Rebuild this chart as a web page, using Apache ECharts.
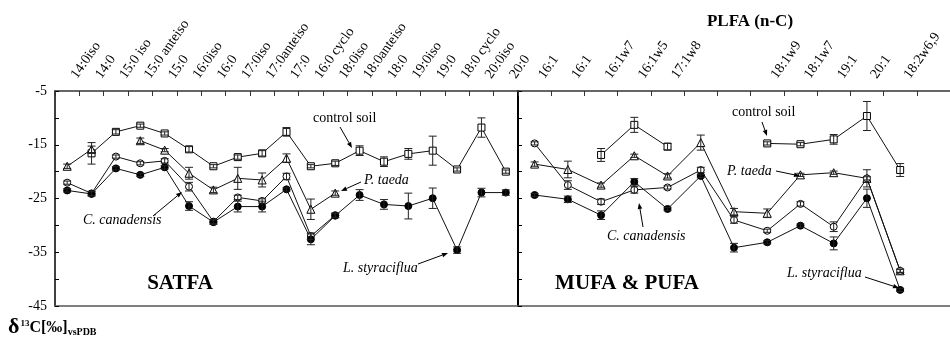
<!DOCTYPE html>
<html>
<head>
<meta charset="utf-8">
<script src="https://cdn.jsdelivr.net/npm/echarts@6/dist/echarts.min.js"></script>
<style>
html,body{margin:0;padding:0;background:#fff;}
#chart{width:950px;height:342px;}
</style>
</head>
<body>
<div id="chart"></div>
<script>
// ---------- DATA ----------
const satCats = ['14:0iso','14:0','15:0 iso','15:0 anteiso','15:0','16:0iso','16:0','17:0iso','17:0anteiso','17:0','16:0 cyclo','18:0iso','18:0anteiso','18:0','19:0iso','19:0','18:0 cyclo','20:0iso','20:0'];
const unsatCats = ['16:1','16:1','16:1w7','16:1w5','17:1w8','','','18:1w9','18:1w7','19:1','20:1','18:2w6,9',''];

const yTicks = [-45, -35, -25, -15, -5];

// SATFA panel
const satControl     = [null, -16.6, -12.6, -11.45, -12.9, -15.85, -19.0, -17.3, -16.6, -12.6, -19.0, -18.45, -16.1, -18.15, -16.7, -16.1, -19.6, -11.8, -20.0];
const satControlErr  = [0, 2.0, 0.4, 0.3, 0.3, 0.5, 0.3, 0.4, 0.5, 0.8, 0.3, 0.4, 0.9, 0.9, 1.0, 2.7, 0.3, 1.8, 0.3];
const satTaeda       = [-19.0, -15.85, null, -14.25, -16.0, -20.3, -23.4, -21.25, -21.55, -17.5, -27.0, -24.0, null, null, null, null, null, null, null];
const satTaedaErr    = [0.4, 0.6, 0, 0.5, 0.3, 1.1, 0.5, 2.05, 1.3, 0.8, 1.9, 0.4, 0, 0, 0, 0, 0, 0, 0];
const satCanad       = [-22.05, -24.05, -17.2, -18.45, -18.0, -22.8, -29.3, -24.8, -25.45, -20.9, -32.0, -28.1, null, null, null, null, null, null, null];
const satCanadErr    = [0.3, 0.4, 0.3, 0.3, 0.4, 0.8, 0.4, 0.4, 0.4, 0.6, 0.6, 0.4, 0, 0, 0, 0, 0, 0, 0];
const satStyr        = [-23.5, -24.15, -19.4, -20.6, -19.2, -26.4, -29.4, -26.5, -26.5, -23.3, -32.6, -28.2, -24.35, -26.1, -26.4, -24.95, -34.6, -23.9, -23.9];
const satStyrErr     = [0.3, 0.4, 0.3, 0.3, 0.3, 0.8, 0.4, 1.0, 1.0, 0.3, 1.0, 0.4, 1.0, 0.9, 2.4, 1.9, 0.6, 0.8, 0.5];

// MUFA & PUFA panel
const unsControl     = [null, null, -16.9, -11.3, -15.35, null, null, -14.75, -14.9, -14.0, -9.65, -19.7];
const unsControlErr  = [0, 0, 1.2, 1.4, 0.6, 0, 0, 0.3, 0.3, 0.9, 2.7, 1.2];
const unsTaeda       = [-18.6, -19.6, -22.5, -17.05, -20.8, -14.6, -27.45, -27.75, -20.6, -20.2, -21.25, -38.45];
const unsTaedaErr    = [0.4, 1.55, 0.4, 0.3, 0.4, 1.4, 0.6, 0.8, 0.3, 0.3, 1.6, 0.3];
const unsCanad       = [-14.75, -22.5, -25.6, -23.4, -22.95, -19.7, -29.0, -31.0, -26.0, -30.25, -21.25, -38.45];
const unsCanadErr    = [0.3, 0.8, 0.5, 0.6, 0.3, 0.5, 0.6, 0.3, 0.4, 0.9, 0.3, 0.3];
const unsStyr        = [-24.35, -25.15, -28.1, -21.9, -26.95, -20.8, -34.15, -33.15, -30.05, -33.35, -24.95, -42.0];
const unsStyrErr     = [0.3, 0.6, 0.8, 0.6, 0.3, 0.3, 0.8, 0.3, 0.3, 1.2, 1.7, 0.3];

// ---------- CHART ----------
const SERIF = '"Liberation Serif", "Times New Roman", serif';
const chart = echarts.init(document.getElementById('chart'), null, {renderer: 'canvas'});

const styles = {
  control: {symbol: 'rect', size: 7, fill: '#fff'},
  taeda:   {symbol: 'triangle', size: 8, fill: '#fff'},
  canad:   {symbol: 'circle', size: 7, fill: '#fff'},
  styr:    {symbol: 'circle', size: 7, fill: '#000'}
};

function lineSeries(name, data, st, gi) {
  return {
    type: 'line', name: name, xAxisIndex: gi, yAxisIndex: gi,
    data: data, connectNulls: false,
    symbol: st.symbol, symbolSize: st.size, showAllSymbol: true,
    itemStyle: {color: st.fill, borderColor: '#000', borderWidth: 1},
    lineStyle: {color: '#111', width: 1},
    emphasis: {disabled: true}, z: 3
  };
}
function errSeries(data, err, gi) {
  const d = [];
  data.forEach((v, i) => { if (v !== null && err[i] > 0) d.push([i, v, err[i]]); });
  return {
    type: 'custom', xAxisIndex: gi, yAxisIndex: gi, data: d, z: 4,
    encode: {x: 0, y: 1},
    renderItem: function (params, api) {
      const i = api.value(0), v = api.value(1), e = api.value(2);
      const hi = api.coord([i, v + e]);
      const lo = api.coord([i, v - e]);
      const hw = 4;
      const st = {stroke: '#222', lineWidth: 1};
      return {type: 'group', children: [
        {type: 'line', shape: {x1: hi[0], y1: hi[1], x2: lo[0], y2: lo[1]}, style: st},
        {type: 'line', shape: {x1: hi[0]-hw, y1: hi[1], x2: hi[0]+hw, y2: hi[1]}, style: st},
        {type: 'line', shape: {x1: lo[0]-hw, y1: lo[1], x2: lo[0]+hw, y2: lo[1]}, style: st}
      ]};
    }
  };
}

function arrow(x1, y1, x2, y2) {
  const dx = x2 - x1, dy = y2 - y1, len = Math.hypot(dx, dy);
  const ux = dx / len, uy = dy / len, hl = 6, hw = 2.3;
  const bx = x2 - ux * hl, by = y2 - uy * hl;
  return [
    {type: 'line', shape: {x1: x1, y1: y1, x2: bx, y2: by}, style: {stroke: '#000', lineWidth: 1}, z: 10},
    {type: 'polygon', shape: {points: [[x2, y2], [bx - uy * hw, by + ux * hw], [bx + uy * hw, by - ux * hw]]}, style: {fill: '#000'}, z: 10}
  ];
}
function label(text, x, y, opts) {
  opts = opts || {};
  return {type: 'text', x: x, y: y, z: 10, style: {
    text: text, fontFamily: SERIF, fontSize: opts.size || 14,
    fontStyle: opts.italic ? 'italic' : 'normal', fontWeight: opts.bold ? 'bold' : 'normal',
    fill: '#000', align: opts.align || 'left', verticalAlign: 'middle'
  }};
}

const xTop = (gi, cats) => ({
  gridIndex: gi, type: 'category', position: 'top', data: cats, boundaryGap: true,
  axisLine: {show: true, lineStyle: {color: '#333', width: 1.5}},
  axisTick: {show: true, inside: true, length: 5, interval: 0, lineStyle: {color: '#333'}},
  axisLabel: {interval: 0, rotate: -55, margin: 4, padding: [0, 0, 0, 12], fontFamily: SERIF, fontSize: 14, color: '#000'},
  splitLine: {show: false}
});
const xBottom = (gi, cats) => ({
  gridIndex: gi, type: 'category', position: 'bottom', data: cats,
  axisLine: {show: true, lineStyle: {color: '#555', width: 1.5}},
  axisTick: {show: false}, axisLabel: {show: false}, splitLine: {show: false}
});
const yAx = (gi, showLabels, lw) => ({
  gridIndex: gi, type: 'value', min: -45, max: -5, interval: 5,
  axisLine: {show: true, lineStyle: {color: '#000', width: lw}},
  axisTick: {show: true, inside: true, length: 4, lineStyle: {color: '#000'}},
  axisLabel: {show: showLabels, margin: 8, fontFamily: SERIF, fontSize: 14, color: '#000',
    formatter: v => (yTicks.indexOf(v) >= 0 ? String(v) : '')},
  splitLine: {show: false}
});

const series = [
  lineSeries('control soil', satControl, styles.control, 0),
  lineSeries('P. taeda', satTaeda, styles.taeda, 0),
  lineSeries('C. canadensis', satCanad, styles.canad, 0),
  lineSeries('L. styraciflua', satStyr, styles.styr, 0),
  errSeries(satControl, satControlErr, 0),
  errSeries(satTaeda, satTaedaErr, 0),
  errSeries(satCanad, satCanadErr, 0),
  errSeries(satStyr, satStyrErr, 0),
  lineSeries('control soil', unsControl, styles.control, 1),
  lineSeries('P. taeda', unsTaeda, styles.taeda, 1),
  lineSeries('C. canadensis', unsCanad, styles.canad, 1),
  lineSeries('L. styraciflua', unsStyr, styles.styr, 1),
  errSeries(unsControl, unsControlErr, 1),
  errSeries(unsTaeda, unsTaedaErr, 1),
  errSeries(unsCanad, unsCanadErr, 1),
  errSeries(unsStyr, unsStyrErr, 1)
];

const graphics = [].concat(
  label('PLFA (n-C)', 750, 22, {bold: true, size: 17, align: 'center'}),
  label('SATFA', 180, 284, {bold: true, size: 21, align: 'center'}),
  label('MUFA & PUFA', 627, 284, {bold: true, size: 21, align: 'center'}),
  label('control soil', 313, 118),
  arrow(340, 127, 352, 148),
  label('P. taeda', 364, 180, {italic: true}),
  arrow(361, 182, 341, 191),
  label('C. canadensis', 83, 220, {italic: true}),
  arrow(153, 216, 182, 192),
  label('L. styraciflua', 343, 268, {italic: true}),
  arrow(418, 264, 448, 253),
  label('control soil', 732, 112),
  arrow(762, 122, 767, 136),
  label('P. taeda', 727, 171, {italic: true}),
  arrow(776, 171, 800, 176),
  label('C. canadensis', 607, 236, {italic: true}),
  arrow(643, 227, 639, 203),
  label('L. styraciflua', 787, 273, {italic: true}),
  arrow(865, 277, 899, 288),
  [{type: 'text', x: 8, y: 315, z: 10, style: {
    text: '{d|δ}{s|13}{c|C[‰]}{v|vsPDB}', fill: '#000',
    rich: {
      d: {fontFamily: SERIF, fontSize: 22, fontWeight: 'bold', lineHeight: 23, verticalAlign: 'bottom'},
      s: {fontFamily: SERIF, fontSize: 9, fontWeight: 'bold', lineHeight: 23, verticalAlign: 'top', padding: [4, 0, 0, 1]},
      c: {fontFamily: SERIF, fontSize: 16, fontWeight: 'bold', lineHeight: 23, verticalAlign: 'bottom', padding: [0, 0, 2, 0]},
      v: {fontFamily: SERIF, fontSize: 10, fontWeight: 'bold', lineHeight: 23, verticalAlign: 'bottom', padding: [0, 0, 1, 0]}
    }
  }}]
);

chart.setOption({
  animation: false,
  backgroundColor: '#fff',
  grid: [
    {left: 55, top: 91, width: 463, height: 215, containLabel: false},
    {left: 518, top: 91, width: 442, height: 215, containLabel: false}
  ],
  xAxis: [xTop(0, satCats), xTop(1, unsatCats), xBottom(0, satCats), xBottom(1, unsatCats)],
  yAxis: [yAx(0, true, 1.5), yAx(1, false, 2)],
  series: series,
  graphic: graphics
});
</script>
</body>
</html>
